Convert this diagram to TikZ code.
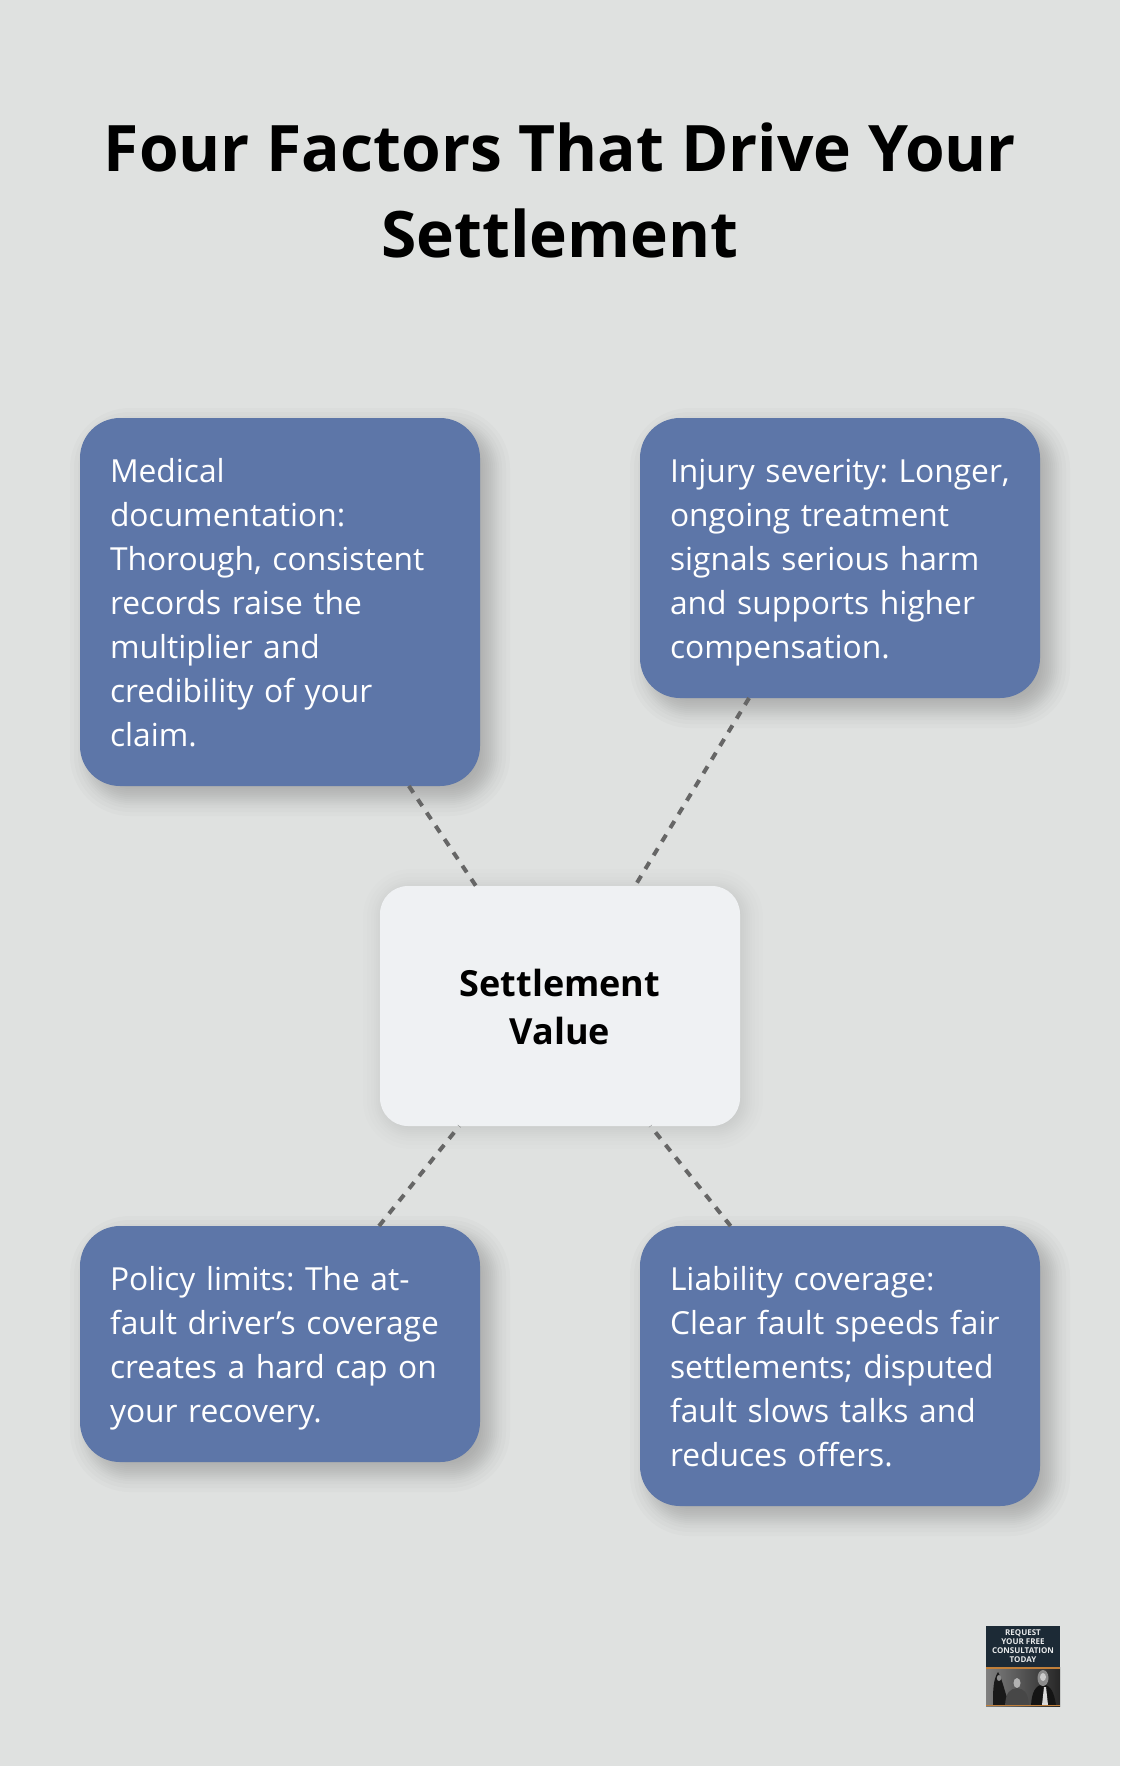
\documentclass[tikz,border=0pt]{standalone}
\usepackage{fontspec}
\setmainfont{Open Sans}
\newfontfamily\factorfont{Open Sans}[WordSpace=0.84]
\usepackage{xcolor}
\usetikzlibrary{backgrounds,calc}
\definecolor{background}{HTML}{DFE1E0}
\definecolor{factor}{HTML}{5D76A8}
\definecolor{centerbox}{HTML}{EFF1F3}
\definecolor{dashline}{HTML}{666666}
\definecolor{logonavy}{HTML}{1C2A36}
\definecolor{logoorange}{HTML}{C07F3A}
\newcommand{\fline}{\rule{0pt}{34pt}}
\newcommand{\lline}{\rule[-10pt]{0pt}{10pt}}
% node, offset, radius, opacity of one layer
\newcommand{\softshadow}[4]{%
  \foreach \d in {-12,-9,-7,-5,-3,-1,1,3,5,7,9,12,16,20}
  {
    \pgfmathsetmacro{\rad}{max(#3+\d,3)}
    \fill[black,opacity=#4,rounded corners=\rad pt] ($(#1.north west)+(#2-\d,#2-\d)$) rectangle ($(#1.south east)+(#2+\d,#2+\d)$);
  }%
}

\begin{document}
\frenchspacing
\begin{tikzpicture}[x=1pt,y=-1pt,
    factor/.style={anchor=north west,fill=factor,rounded corners=40pt,text=white,align=left,
      text width=340pt,inner xsep=30pt,inner ysep=30pt,outer sep=0pt,
      font=\factorfont\fontsize{31.75}{44}\selectfont},
    link/.style={draw=dashline,line width=4pt,dash pattern=on 8pt off 8pt}]
    \useasboundingbox (0,0) rectangle (1120,1766);

    \node (title) at (560,190) [align=center,font=\fontsize{64.1}{86}\selectfont\bfseries] {Four Factors That Drive Your\\Settlement};

    % factors
    \coordinate (P1) at (80,418);
    \coordinate (P2) at (640,418);
    \coordinate (P3) at (80,1226);
    \coordinate (P4) at (640,1226);
    \foreach \p/\nm/\lbl in {
      (P1)/medical/{\fline Medical\\documentation:\\Thorough, consistent\\records raise the\\multiplier and\\credibility of your\\claim.\lline},
      (P2)/injury/{\fline Injury severity: Longer,\\ongoing treatment\\signals serious harm\\and supports higher\\compensation.\lline},
      (P3)/policy/{\fline Policy limits: The at-\\fault driver’s coverage\\creates a hard cap on\\your recovery.\lline},
      (P4)/liability/{\fline Liability coverage:\\Clear fault speeds fair\\settlements; disputed\\fault slows talks and\\reduces offers.\lline}}
    {
      \node[factor] (\nm) at \p {\lbl};
    }

    % center
    \node (value) at (560,1006) [fill=centerbox,rounded corners=28pt,minimum width=360pt,minimum height=240pt,outer sep=0pt,
      align=center,font=\fontsize{36}{48}\selectfont\bfseries] {\rule{0pt}{29.5pt}Settlement\\Value};

    % page and shadows
    \begin{pgfonlayer}{background}
      \fill[background] (0,0) rectangle (1120,1766);
      \foreach \nm in {medical,injury,policy,liability}
      {
        \softshadow{\nm}{10}{40}{0.017}
      }
      \softshadow{value}{3}{28}{0.008}
    \end{pgfonlayer}

    % links
    \foreach \a/\b in {medical.-55.4/value.125.3,injury.237.3/value.58.3,policy.50.3/value.-130.1,liability.128.3/value.-53.7}
    {
      \draw[link] (\a) -- (\b);
    }

    % logo
    \node (logo) at (986,1626) [anchor=north west,fill=logonavy,minimum width=74pt,minimum height=41pt,outer sep=0pt,inner sep=0pt,
      text=white!90!logonavy,align=center,font=\fontsize{8}{9}\selectfont\bfseries] {REQUEST\\YOUR FREE\\CONSULTATION\\TODAY};
    \node (photo) at (logo.south west) [anchor=north west,minimum width=74pt,minimum height=39pt,outer sep=0pt,inner sep=0pt,
      left color=black!50,middle color=black!45,right color=black!85] {};
    \fill[black!90] (993,1705) .. controls (993,1690) and (993,1680) .. (998,1672) .. controls (1003,1680) and (1005,1695) .. (1010,1705) -- cycle;
    \fill[black!45] (999,1678) ellipse (2.2pt and 3pt);
    \fill[black!72] (1005,1705) .. controls (1006,1692) and (1010,1689) .. (1017,1688) .. controls (1024,1689) and (1028,1692) .. (1029,1705) -- cycle;
    \fill[black!30] (1017,1683) ellipse (3.5pt and 5pt);
    \fill[black!92] (1031,1705) .. controls (1032,1692) and (1035,1686) .. (1043,1684) .. controls (1051,1686) and (1054,1692) .. (1056,1705) -- cycle;
    \fill[black!45] (1043,1678) ellipse (5.5pt and 8pt);
    \fill[black!20] (1043,1677) ellipse (3pt and 4pt);
    \fill[black!15] (1042,1705) -- (1044,1687) -- (1046,1687) -- (1048,1705) -- cycle;
    \fill[logoorange] (logo.south west) rectangle ($(logo.south east)+(0,1.5)$);
    \fill[logoorange] ($(photo.south west)+(0,-1)$) rectangle (photo.south east);
\end{tikzpicture}
\end{document}
